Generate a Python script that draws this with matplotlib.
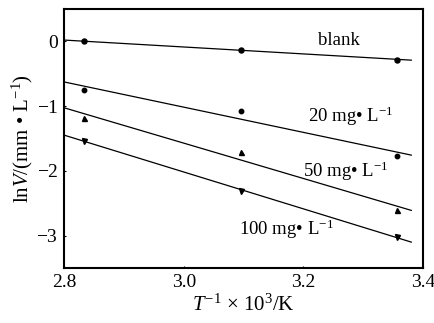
import numpy as np
import matplotlib
matplotlib.use("Agg")
import matplotlib.pyplot as plt

plt.rcParams['font.family'] = ['Liberation Serif', 'DejaVu Serif']
plt.rcParams['mathtext.fontset'] = 'custom'
plt.rcParams['mathtext.rm'] = 'Liberation Serif'
plt.rcParams['mathtext.it'] = 'Liberation Serif:italic'

# 1/T x 10^3 for the three temperatures
invT = [2.833, 3.096, 3.356]

# ln V for each inhibitor concentration
blank = [0.0, -0.13, -0.28]
c20 = [-0.75, -1.08, -1.77]
c50 = [-1.18, -1.70, -2.61]
c100 = [-1.53, -2.31, -3.02]

series = [blank, c20, c50, c100]
markers = ['o', 'o', '^', 'v']
msizes = [3.6, 3.2, 3.6, 3.6]
labels = ['blank', '20 mg• L$^{-1}$', '50 mg• L$^{-1}$', '100 mg• L$^{-1}$']
label_pos = [(3.26, 0.02, 'center'), (3.208, -1.16, 'left'),
             (3.20, -2.0, 'left'), (3.092, -2.9, 'left')]

fig = plt.figure(figsize=(4.35, 3.23), dpi=100)
ax = fig.add_axes([0.147, 0.170, 0.826, 0.802])

xfit = np.array([2.8, 3.38])
for ys, m, ms in zip(series, markers, msizes):
    ax.plot(invT, ys, linestyle='none', marker=m, color='black', markersize=ms)
    k, b = np.polyfit(invT, ys, 1)
    ax.plot(xfit, k*xfit + b, color='black', lw=0.9)

for lab, (x, y, ha) in zip(labels, label_pos):
    ax.text(x, y, lab, ha=ha, va='center', fontsize=13.5)

ax.set_xlim(2.8, 3.4)
ax.set_ylim(-3.5, 0.5)
ax.set_xticks([2.8, 3.0, 3.2, 3.4])
ax.set_xticklabels(['2.8', '3.0', '3.2', '3.4'])
ax.set_yticks([0, -1, -2, -3])
ax.set_yticklabels(['0', '$-$1', '$-$2', '$-$3'])
ax.tick_params(direction='in', length=1.5, labelsize=14, pad=4)
for s in ax.spines.values():
    s.set_linewidth(1.5)

ax.set_xlabel('$T^{-1}$ × 10$^{3}$/K', fontsize=15, labelpad=3)
ax.set_ylabel('ln$V$/(mm • L$^{-1}$)', fontsize=15, labelpad=1)

fig.savefig('out.png', dpi=100)
